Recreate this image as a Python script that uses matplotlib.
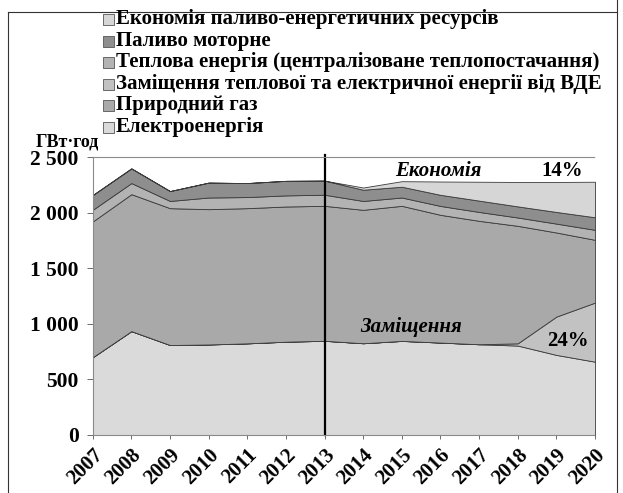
import matplotlib
matplotlib.use("Agg")
import matplotlib.pyplot as plt
from matplotlib.patches import Rectangle
from matplotlib.lines import Line2D

plt.rcParams['font.family'] = ['Liberation Serif', 'DejaVu Serif']
plt.rcParams['font.weight'] = 'bold'

years = list(range(2007, 2021))

# GWh, bottom-up
electricity = [700, 935, 810, 815, 825, 840, 848, 826, 847, 832, 817, 805, 721, 660]
res_replacement = [0, 0, 0, 0, 0, 0, 0, 0, 0, 0, 0, 20, 345, 532]
natural_gas = [1222, 1233, 1232, 1218, 1217, 1217, 1215, 1201, 1216, 1150, 1111, 1058, 757, 565]
heat = [105, 100, 65, 105, 100, 100, 100, 80, 75, 80, 80, 75, 80, 90]
motor_fuel = [133, 132, 89, 134, 126, 131, 127, 101, 97, 100, 102, 100, 105, 113]
savings = [0, 0, 0, 0, 0, 0, 0, 20, 50, 120, 170, 220, 270, 320]

labels = ['Економія паливо-енергетичних ресурсів',
          'Паливо моторне',
          'Теплова енергія (централізоване теплопостачання)',
          'Заміщення теплової та електричної енергії від ВДЕ',
          'Природний газ',
          'Електроенергія']

yticks = [0, 500, 1000, 1500, 2000, 2500]
ytick_labels = ['0', '500', '1 000', '1 500', '2 000', '2 500']

# colours, bottom-up
c_el, c_res, c_gas, c_heat, c_fuel, c_sav = '#dadada', '#c2c2c2', '#a9a9a9', '#b3b3b3', '#8e8e8e', '#d6d6d6'

W, H = 623, 493
fig = plt.figure(figsize=(W / 100, H / 100), dpi=100)
ax = fig.add_axes([92.7 / W, 1 - 435 / H, (595 - 92.7) / W, (435 - 157.3) / H])

ax.stackplot(years, electricity, res_replacement, natural_gas, heat, motor_fuel, savings,
             colors=[c_el, c_res, c_gas, c_heat, c_fuel, c_sav],
             edgecolor='#3a3a3a', linewidth=0.6)

ax.axvline(2013, color='black', lw=1.6, ymin=0, ymax=1.01, clip_on=False)

ax.set_xlim(2007, 2020)
ax.set_ylim(0, 2500)
ax.set_yticks(yticks)
ax.set_yticklabels(ytick_labels, fontsize=15.5, fontweight='bold')
ax.set_xticks(years)
ax.set_xticklabels([str(y) for y in years], rotation=45, ha='right',
                   rotation_mode='anchor', fontsize=15, fontweight='bold')
ax.tick_params(axis='y', length=4, width=0.6, pad=6, color='#555555')
ax.tick_params(axis='x', length=3, width=0.6, pad=4, color='#555555')

for side in ['left', 'top', 'bottom']:
    ax.spines[side].set_color('#8a8a8a')
    ax.spines[side].set_linewidth(0.8)
    ax.spines[side].set_linestyle((0, (1, 1)))
ax.spines['right'].set_visible(False)

# annotations
ax.text(2015.95, 2290, 'Економія', fontsize=15, fontweight='bold', style='italic',
        ha='center', va='bottom')
ax.text(2019.15, 2290, '14%', fontsize=15, fontweight='bold', ha='center', va='bottom')
ax.text(2015.25, 970, 'Заміщення', fontsize=15, fontweight='bold', style='italic',
        ha='center', va='center')
ax.text(2019.3, 850, '24%', fontsize=15, fontweight='bold', ha='center', va='center')

fig.text(36 / W, 1 - 150 / H, 'ГВт·год', fontsize=13, fontweight='bold',
         ha='left', va='bottom')

# legend, top-down
colors_top_down = [c_sav, c_fuel, c_heat, c_res, c_gas, c_el]
row_y = [19, 41, 62, 84, 105, 127]
for lab, col, yy in zip(labels, colors_top_down, row_y):
    fig.add_artist(Rectangle((103 / W, 1 - (yy + 5.5) / H), 11 / W, 11 / H,
                             facecolor=col, edgecolor='#555555', lw=0.6,
                             transform=fig.transFigure))
    fig.text(116 / W, 1 - yy / H, lab, fontsize=15, fontweight='bold',
             ha='left', va='center')

# page frame
fig.add_artist(Line2D([8 / W, 8 / W], [0, 1 - 12 / H], color='#333333', lw=0.8))
fig.add_artist(Line2D([617 / W, 617 / W], [0, 1], color='#333333', lw=0.8))
fig.add_artist(Line2D([8 / W, 617 / W], [1 - 12 / H, 1 - 12 / H], color='#333333', lw=0.8))

fig.savefig('out.png', dpi=100)
